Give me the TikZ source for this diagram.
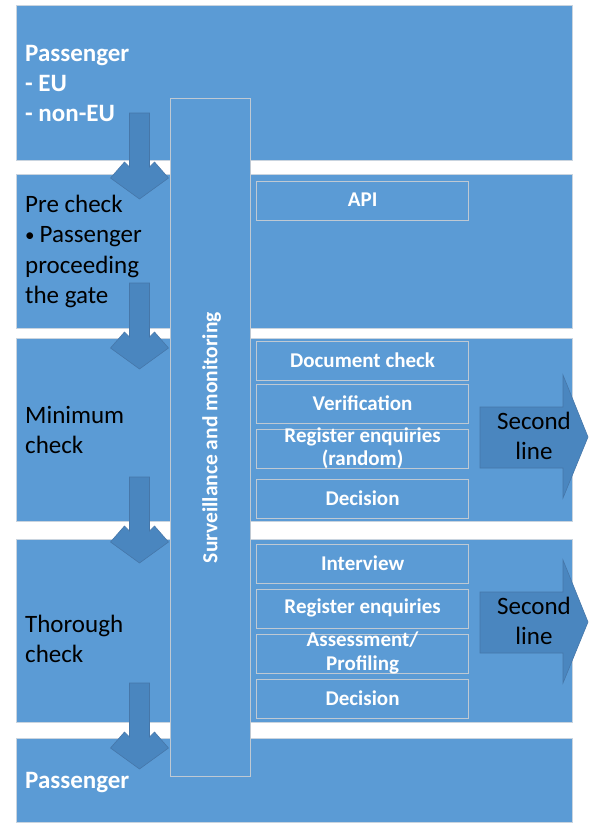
\documentclass[tikz,border=0pt]{standalone}
\usepackage{fontspec}
\setmainfont{Carlito}

\definecolor{band}{HTML}{5B9BD5}
\definecolor{bandedge}{HTML}{C9D4DF}
\definecolor{arrowfill}{HTML}{4A86BF}
\definecolor{arrowedge}{HTML}{4677A9}
\definecolor{boxedge}{HTML}{BFC9D3}

\tikzset{
  bandbox/.style={fill=band, draw=bandedge, line width=0.8pt},
  stepbox/.style={draw=boxedge, line width=1.2pt, minimum width=212pt,
    minimum height=39pt, inner sep=0pt, anchor=north west},
  boxlabel/.style={inner sep=0pt, text=white, align=center,
    font=\fontsize{21}{23.5}\bfseries\selectfont},
  lefttext/.style={anchor=north west, inner sep=0pt, align=left,
    font=\fontsize{25}{30.5}\selectfont, text=black},
  whitetext/.style={anchor=north west, inner sep=0pt, align=left,
    font=\fontsize{25}{30}\bfseries\selectfont, text=white},
  blocky/.style={fill=arrowfill, draw=arrowedge, line width=0.6pt},
  % block arrow pointing down, origin at the top middle of its shaft
  downarrow/.pic={
    \path[blocky] (-10,0) -- (10,0) -- (10,54) -- (15,49) -- (29,65)
      -- (0,86) -- (-29,65) -- (-15,49) -- (-10,54) -- cycle;
  },
  % block arrow pointing right, origin at the top left of its shaft
  sidearrow/.pic={
    \path[blocky] (0,0) -- (83,0) -- (83,-32) -- (108,30) -- (83,91)
      -- (83,61) -- (0,61) -- cycle;
    \node[lefttext, anchor=north, align=center] (-t) at (54,2)
      {\rule{0pt}{20pt}Second\\line};
  },
}

% framed step box with its centred caption
\newcommand\stepnode[3]{%
  \node[stepbox] (#1) at (256,#2) {};
  \node[boxlabel] (#1-t) at ([yshift=1pt]#1.center) {#3};}

% small list bullet
\newcommand\smallbullet{\raisebox{1pt}{\fontsize{19}{0}\selectfont•}\hspace{5pt}}

\begin{document}
\begin{tikzpicture}[x=1pt, y=-1pt]
  \useasboundingbox[fill=white] (0,0) rectangle (592,823);

  % horizontal stages
  \path[bandbox] (16,5)   rectangle (572,160);
  \path[bandbox] (16,174) rectangle (572,328);
  \path[bandbox] (16,338) rectangle (572,521);
  \path[bandbox] (16,539) rectangle (572,722);
  \path[bandbox] (16,738) rectangle (572,822);

  % stage captions
  \node[whitetext] (pin) at (25,41) {\rule{0pt}{20pt}Passenger\\- EU\\- non-EU};
  \node[lefttext] (pre) at (25,192) {\rule{0pt}{20pt}Pre check\\\smallbullet Passenger\\proceeding\\the gate};
  \node[lefttext] (mini) at (25,403) {\rule{0pt}{20pt}Minimum\\check};
  \node[lefttext] (thor) at (25,612) {\rule{0pt}{20pt}Thorough\\check};
  \node[whitetext] (pout) at (25,768) {\rule{0pt}{20pt}Passenger};

  % flow between stages
  \pic at (139.5,113) {downarrow};
  \pic at (139.5,283) {downarrow};
  \pic at (139.5,477) {downarrow};
  \pic at (139.5,683) {downarrow};

  % surveillance column
  \node[draw=boxedge, line width=1.2pt, fill=band, minimum width=80pt,
        minimum height=678pt, inner sep=0pt, anchor=north west] (bar) at (170,98) {};
  \node[rotate=90, text=white, font=\fontsize{21.5}{24}\bfseries\selectfont]
        (bartext) at ([xshift=1pt]bar.center) {Surveillance and monitoring};

  % checks per stage
  \stepnode{api}{181}{API}
  \stepnode{doc}{341}{Document check}
  \stepnode{ver}{384}{Verification}
  \stepnode{reg}{429}{Register enquiries\\(random)}
  \stepnode{dec}{479}{Decision}
  \stepnode{int}{544}{Interview}
  \stepnode{regb}{589}{Register enquiries}
  \stepnode{ass}{634}{Assessment/\\Profiling}
  \stepnode{decb}{679}{Decision}

  % hand-over to second line
  \pic (sla) at (480,407) {sidearrow};
  \pic (slb) at (480,592) {sidearrow};
\end{tikzpicture}
\end{document}
